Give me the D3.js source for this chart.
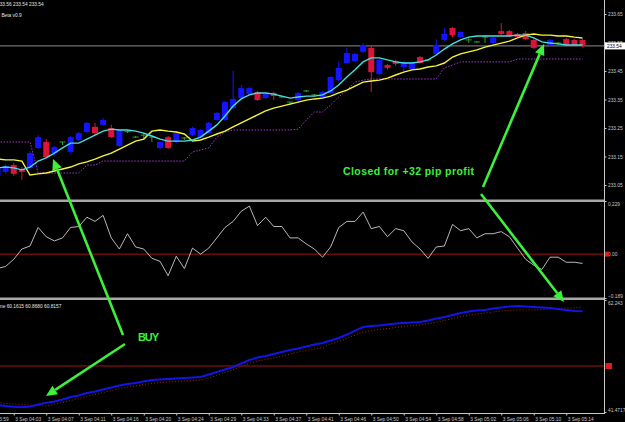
<!DOCTYPE html>
<html>
<head>
    <meta charset="utf-8">
    <title>Chart</title>
    <script src="https://cdnjs.cloudflare.com/ajax/libs/d3/7.8.5/d3.min.js"></script>
    <style>
        body { margin: 0; background: #000; }
        svg { display: block; }
        text { font-family: "Liberation Sans", Arial, sans-serif; }
    </style>
</head>
<body>
<script type="text/javascript">
    // one bar per minute, bar 0 is cut by the left edge
    var opens = [233.082, 233.096, 233.120, 233.106, 233.110, 233.180, 233.201, 233.162, 233.201, 233.166,
        233.208, 233.236, 233.254, 233.261, 233.250, 233.187, 233.237, 233.218, 233.225, 233.218,
        233.180, 233.218, 233.201, 233.215, 233.225, 233.218, 233.232, 233.278, 233.278, 233.320,
        233.355, 233.369, 233.376, 233.355, 233.373, 233.359, 233.341, 233.348, 233.380, 233.366,
        233.355, 233.373, 233.418, 233.478, 233.485, 233.517, 233.531, 233.439, 233.471, 233.485,
        233.464, 233.457, 233.499, 233.489, 233.510, 233.559, 233.601, 233.569, 233.559, 233.552,
        233.569, 233.548, 233.590, 233.590, 233.580, 233.583, 233.559, 233.538, 233.541, 233.548,
        233.562, 233.559, 233.559];
    var highs = [233.117, 233.124, 233.127, 233.113, 233.169, 233.225, 233.211, 233.187, 233.201, 233.222,
        233.236, 233.271, 233.268, 233.285, 233.261, 233.246, 233.243, 233.222, 233.232, 233.218,
        233.204, 233.222, 233.239, 233.218, 233.254, 233.246, 233.271, 233.306, 233.345, 233.450,
        233.401, 233.394, 233.380, 233.373, 233.376, 233.362, 233.341, 233.376, 233.383, 233.369,
        233.380, 233.432, 233.482, 233.531, 233.513, 233.548, 233.541, 233.492, 233.475, 233.489,
        233.485, 233.482, 233.503, 233.492, 233.562, 233.601, 233.604, 233.590, 233.569, 233.555,
        233.576, 233.569, 233.618, 233.594, 233.583, 233.590, 233.562, 233.541, 233.562, 233.552,
        233.566, 233.562, 233.562];
    var lows = [233.075, 233.089, 233.082, 233.068, 233.103, 233.176, 233.145, 233.155, 233.190, 233.162,
        233.204, 233.232, 233.225, 233.257, 233.215, 233.183, 233.232, 233.215, 233.208, 233.201,
        233.176, 233.176, 233.197, 233.208, 233.222, 233.215, 233.229, 233.275, 233.275, 233.317,
        233.352, 233.366, 233.345, 233.352, 233.348, 233.355, 233.331, 233.345, 233.376, 233.362,
        233.352, 233.369, 233.415, 233.475, 233.482, 233.513, 233.376, 233.436, 233.454, 233.468,
        233.446, 233.454, 233.475, 233.485, 233.506, 233.555, 233.569, 233.566, 233.548, 233.548,
        233.548, 233.545, 233.576, 233.569, 233.566, 233.559, 233.527, 233.531, 233.538, 233.541,
        233.538, 233.538, 233.534];
    var closes = [233.110, 233.117, 233.089, 233.096, 233.162, 233.218, 233.148, 233.183, 233.201, 233.218,
        233.232, 233.268, 233.232, 233.278, 233.218, 233.243, 233.237, 233.218, 233.225, 233.218,
        233.201, 233.180, 233.232, 233.215, 233.250, 233.243, 233.268, 233.303, 233.341, 233.352,
        233.390, 233.390, 233.348, 233.369, 233.362, 233.359, 233.341, 233.373, 233.380, 233.366,
        233.376, 233.429, 233.461, 233.513, 233.510, 233.541, 233.446, 233.489, 233.461, 233.475,
        233.482, 233.478, 233.478, 233.489, 233.541, 233.580, 233.576, 233.587, 233.559, 233.552,
        233.569, 233.566, 233.580, 233.573, 233.569, 233.562, 233.531, 233.538, 233.559, 233.548,
        233.541, 233.541, 233.538];

    var fastMa = [233.110, 233.113, 233.110, 233.103, 233.113, 233.134, 233.145, 233.162, 233.180, 233.197,
        233.197, 233.211, 233.225, 233.239, 233.246, 233.243, 233.243, 233.239, 233.232, 233.222,
        233.211, 233.204, 233.204, 233.204, 233.208, 233.218, 233.239, 233.261, 233.292, 233.327,
        233.352, 233.366, 233.373, 233.373, 233.369, 233.362, 233.355, 233.359, 233.362, 233.362,
        233.366, 233.380, 233.401, 233.429, 233.454, 233.482, 233.496, 233.496, 233.489, 233.482,
        233.478, 233.478, 233.482, 233.489, 233.506, 233.527, 233.545, 233.559, 233.569, 233.573,
        233.573, 233.573, 233.573, 233.573, 233.576, 233.576, 233.566, 233.552, 233.548, 233.545,
        233.541, 233.541, 233.541];
    var slowMa = [233.141, 233.138, 233.138, 233.134, 233.085, 233.089, 233.092, 233.099, 233.106, 233.113,
        233.124, 233.131, 233.141, 233.152, 233.162, 233.176, 233.190, 233.204, 233.211, 233.239,
        233.243, 233.239, 233.236, 233.229, 233.204, 233.208, 233.218, 233.229, 233.239, 233.254,
        233.268, 233.282, 233.296, 233.310, 233.320, 233.327, 233.334, 233.341, 233.348, 233.352,
        233.355, 233.362, 233.373, 233.383, 233.397, 233.411, 233.415, 233.418, 233.425, 233.436,
        233.446, 233.454, 233.457, 233.464, 233.468, 233.478, 233.499, 233.510, 233.517, 233.524,
        233.534, 233.541, 233.548, 233.555, 233.566, 233.576, 233.580, 233.576, 233.576, 233.573,
        233.573, 233.569, 233.566];
    var trailStop = [233.201, 233.201, 233.201, 233.201, 233.201,
        233.092, 233.092, 233.092, 233.092, 233.092, 233.092,
        233.120, 233.120,
        233.134, 233.134, 233.134, 233.134, 233.134, 233.134, 233.134, 233.134, 233.134, 233.134, 233.134,
        233.166, 233.173, 233.180, 233.218, 233.236,
        233.243, 233.243, 233.243, 233.243, 233.243, 233.243, 233.243, 233.243,
        233.246, 233.278, 233.306, 233.306, 233.331, 233.359, 233.383, 233.411, 233.418,
        233.422, 233.422, 233.422, 233.422, 233.422, 233.422, 233.422, 233.422, 233.422,
        233.461, 233.471,
        233.482, 233.482, 233.482, 233.482, 233.482, 233.482, 233.482,
        233.492, 233.492, 233.492, 233.492, 233.492, 233.492, 233.492, 233.492, 233.492];

    var oscValues = [-0.062, -0.053, -0.022, 0.022, 0.035, 0.115, 0.075, 0.057, 0.070, 0.115,
        0.119, 0.159, 0.141, 0.167, 0.070, 0.022, 0.088, 0.031, 0.022, -0.018,
        -0.031, -0.093, -0.009, -0.062, 0.026, 0.000, 0.026, 0.070, 0.115, 0.141,
        0.185, 0.207, 0.123, 0.159, 0.119, 0.119, 0.070, 0.070, 0.044, 0.022,
        -0.013, 0.031, 0.115, 0.141, 0.141, 0.181, 0.110, 0.119, 0.075, 0.110,
        0.101, 0.053, 0.022, -0.018, 0.031, 0.035, 0.128, 0.101, 0.110, 0.070,
        0.088, 0.088, 0.097, 0.075, 0.026, -0.022, -0.048, -0.066, -0.013, -0.013,
        -0.035, -0.035, -0.040];

    var lowerMain = [42.76, 42.58, 42.45, 42.35, 42.48, 42.86, 43.17, 43.41, 43.78, 44.25,
        44.52, 44.99, 45.27, 45.64, 46.01, 46.38, 46.66, 46.84, 47.12, 47.40,
        47.49, 47.59, 47.68, 47.77, 47.86, 47.96, 48.42, 48.89, 49.35, 49.81,
        50.46, 51.11, 51.58, 51.85, 52.22, 52.60, 52.97, 53.24, 53.62, 53.99,
        54.27, 54.73, 55.19, 55.84, 56.58, 57.23, 57.42, 57.51, 57.70, 57.88,
        57.98, 58.07, 58.16, 58.44, 58.81, 59.09, 59.46, 59.83, 60.11, 60.30,
        60.39, 60.67, 60.85, 61.04, 61.13, 61.04, 60.94, 60.85, 60.76, 60.57,
        60.39, 60.20, 60.16];
    var lowerSignal = [43.23, 43.04, 42.95, 42.86, 42.76, 42.67, 42.58, 42.86, 43.23, 43.60,
        43.97, 44.34, 44.71, 45.08, 45.45, 45.82, 46.10, 46.29, 46.57, 46.75,
        46.94, 47.03, 47.12, 47.22, 47.31, 47.40, 47.77, 48.24, 48.79, 49.35,
        49.91, 50.46, 50.93, 51.20, 51.48, 51.85, 52.22, 52.60, 52.87, 53.15,
        53.43, 54.08, 54.54, 55.10, 55.75, 56.31, 56.58, 56.77, 56.96, 57.14,
        57.33, 57.51, 57.60, 57.88, 58.07, 58.44, 58.81, 59.18, 59.46, 59.65,
        59.83, 60.02, 60.20, 60.30, 60.39, 60.39, 60.39, 60.48, 60.57, 60.67,
        60.76, 60.76, 60.87];

    var timeTicks = [-2, 2, 6, 10, 14, 18, 22, 26, 30, 34, 38, 42, 46, 50, 54, 58, 62, 66, 70];
    var timeLabels = ["3 Sep 03:59", "3 Sep 04:03", "3 Sep 04:07", "3 Sep 04:11", "3 Sep 04:16",
        "3 Sep 04:20", "3 Sep 04:24", "3 Sep 04:29", "3 Sep 04:33", "3 Sep 04:37", "3 Sep 04:41",
        "3 Sep 04:46", "3 Sep 04:50", "3 Sep 04:54", "3 Sep 04:58", "3 Sep 05:02", "3 Sep 05:06",
        "3 Sep 05:10", "3 Sep 05:14"];
    var priceTicks = [233.05, 233.15, 233.25, 233.35, 233.45, 233.55, 233.65];
    var oscTicks = [0.229, 0, -0.189];
    var lowerTicks = [62.243, 41.4717];

    var width = 625, height = 422, plotR = 605,
        bull = "#1414ff", bear = "#dc143c", doji = "#2e9e2e",
        green = "#3cf03c", axisCol = "#c8c8c8";

    var x = d3.scaleLinear().domain([0, 72]).range([-2.5, 582.5]);
    var yMain = d3.scaleLinear().domain([233.05, 233.65]).range([185, 14]);
    var yOsc = d3.scaleLinear().domain([-0.189, 0.229]).range([298, 201]);
    var yLow = d3.scaleLinear().domain([41.4717, 62.243]).range([412, 300]);

    var svg = d3.select("body").append("svg")
        .attr("width", width)
        .attr("height", height)
        .style("background", "#000");

    var defs = svg.append("defs");
    function addClip(id, y0, y1) {
        defs.append("clipPath").attr("id", id).append("rect")
            .attr("x", 0).attr("y", y0).attr("width", plotR).attr("height", y1 - y0);
    }
    addClip("c-main", 0, 199);
    addClip("c-osc", 202, 298);
    addClip("c-low", 300, 413);

    // ---- price pane ----
    var gMain = svg.append("g").attr("clip-path", "url(#c-main)");
    var lastClose = closes[closes.length - 1];

    gMain.append("line")
        .attr("x1", 0).attr("x2", plotR)
        .attr("y1", yMain(lastClose)).attr("y2", yMain(lastClose))
        .attr("stroke", "#8c8c8c").attr("stroke-width", 1);

    var candles = closes.map(function(c, i) {
        return {i: i, o: opens[i], h: highs[i], l: lows[i], c: c};
    });
    function candleColor(d) {
        return d.c > d.o ? bull : d.c < d.o ? bear : doji;
    }

    gMain.selectAll(".wick").data(candles).join("line")
        .attr("class", "wick")
        .attr("x1", d => x(d.i)).attr("x2", d => x(d.i))
        .attr("y1", d => yMain(d.h)).attr("y2", d => yMain(d.l))
        .attr("stroke", candleColor).attr("stroke-width", 1);

    gMain.selectAll(".body").data(candles.filter(d => d.o !== d.c)).join("rect")
        .attr("class", "body")
        .attr("x", d => x(d.i) - 3).attr("width", 6)
        .attr("y", d => yMain(Math.max(d.o, d.c)))
        .attr("height", d => Math.max(1, Math.abs(yMain(d.o) - yMain(d.c))))
        .attr("fill", candleColor);

    gMain.selectAll(".doji").data(candles.filter(d => d.o === d.c)).join("line")
        .attr("class", "doji")
        .attr("x1", d => x(d.i) - 3).attr("x2", d => x(d.i) + 3)
        .attr("y1", d => yMain(d.o)).attr("y2", d => yMain(d.o))
        .attr("stroke", doji).attr("stroke-width", 1);

    function seriesLine(scale) {
        return d3.line().x((d, i) => x(i)).y(d => scale(d));
    }

    gMain.append("path").datum(trailStop)
        .attr("d", seriesLine(yMain)).attr("fill", "none")
        .attr("stroke", "#a23ad0").attr("stroke-width", 1).attr("stroke-dasharray", "1.5,1.5");
    gMain.append("path").datum(slowMa)
        .attr("d", seriesLine(yMain)).attr("fill", "none")
        .attr("stroke", "#f4f43c").attr("stroke-width", 1.4);
    gMain.append("path").datum(fastMa)
        .attr("d", seriesLine(yMain)).attr("fill", "none")
        .attr("stroke", "#46dede").attr("stroke-width", 1.4);

    // ---- oscillator pane ----
    var gOsc = svg.append("g").attr("clip-path", "url(#c-osc)");
    gOsc.append("line")
        .attr("x1", 0).attr("x2", plotR).attr("y1", yOsc(0)).attr("y2", yOsc(0))
        .attr("stroke", "#a01414").attr("stroke-width", 1);
    gOsc.append("path").datum(oscValues)
        .attr("d", seriesLine(yOsc)).attr("fill", "none")
        .attr("stroke", "#e6e6e6").attr("stroke-width", 0.8);

    // ---- lower pane ----
    var gLow = svg.append("g").attr("clip-path", "url(#c-low)");
    gLow.append("line")
        .attr("x1", 0).attr("x2", plotR).attr("y1", yLow(50)).attr("y2", yLow(50))
        .attr("stroke", "#a01414").attr("stroke-width", 1);
    gLow.append("path").datum(lowerSignal)
        .attr("d", seriesLine(yLow)).attr("fill", "none")
        .attr("stroke", "#9a2a1a").attr("stroke-width", 1).attr("stroke-dasharray", "1,2");
    gLow.append("path").datum(lowerMain)
        .attr("d", seriesLine(yLow)).attr("fill", "none")
        .attr("stroke", "#1414e6").attr("stroke-width", 2);

    // pane separators and frame
    [199.5, 297.5].forEach(function(y) {
        svg.append("rect").attr("x", 0).attr("y", y).attr("width", plotR).attr("height", 2.5)
            .attr("fill", "#a8a8a8");
    });
    svg.append("line").attr("x1", plotR - 0.5).attr("x2", plotR - 0.5).attr("y1", 0).attr("y2", 413.5)
        .attr("stroke", axisCol).attr("stroke-width", 1);
    svg.append("line").attr("x1", 0).attr("x2", plotR).attr("y1", 413.5).attr("y2", 413.5)
        .attr("stroke", axisCol).attr("stroke-width", 1);

    function styleAxis(g) {
        g.select(".domain").remove();
        g.selectAll("line").attr("stroke", axisCol);
        g.selectAll("text").attr("fill", axisCol).style("font-size", "4.8px")
            .style("font-family", "'Liberation Sans', Arial, sans-serif");
    }

    svg.append("g")
        .attr("transform", "translate(" + (plotR - 0.5) + ",0)")
        .call(d3.axisRight(yMain).tickValues(priceTicks).tickFormat(d3.format(".2f")).tickSize(2).tickPadding(1.5))
        .call(styleAxis);

    svg.append("g")
        .attr("transform", "translate(" + (plotR - 0.5) + ",0)")
        .call(d3.axisRight(yOsc).tickValues(oscTicks)
            .tickFormat(d => d === 0 ? "0.00" : d3.format(".3f")(d)).tickSize(2).tickPadding(1.5))
        .call(styleAxis)
        .call(g => g.selectAll(".tick text").attr("dy", (d, i) => i === 0 ? "0.9em" : i === 2 ? "-0.2em" : "0.32em"));

    svg.append("g")
        .attr("transform", "translate(" + (plotR - 0.5) + ",0)")
        .call(d3.axisRight(yLow).tickValues(lowerTicks)
            .tickFormat(d => String(d)).tickSize(2).tickPadding(1.5))
        .call(styleAxis)
        .call(g => g.selectAll(".tick text").attr("dy", (d, i) => i === 0 ? "0.9em" : "-0.1em"));

    // level markers on the right scale
    svg.append("rect").attr("x", 605).attr("y", yOsc(0) - 2.5).attr("width", 4.5).attr("height", 5)
        .attr("fill", "#dc1e1e");
    svg.append("rect").attr("x", 605.5).attr("y", yLow(50) - 3).attr("width", 6.5).attr("height", 6)
        .attr("fill", "#dc1e1e");

    // bid box
    svg.append("rect").attr("x", 605).attr("y", yMain(lastClose) - 3.5).attr("width", 20).attr("height", 7)
        .attr("fill", "#fff");
    svg.append("text").attr("x", 607).attr("y", yMain(lastClose) + 1.8)
        .style("font-size", "4.8px").attr("fill", "#000").text(d3.format(".2f")(lastClose));

    svg.append("g")
        .attr("transform", "translate(0,413.5)")
        .call(d3.axisBottom(x).tickValues(timeTicks).tickFormat((d, i) => timeLabels[i]).tickSize(2).tickPadding(2))
        .call(styleAxis)
        .call(g => g.selectAll(".tick text").attr("text-anchor", "start").attr("x", 1));

    // pane titles
    var titles = [
        {x: -3, y: 6, t: "233.56 233.54 233.54"},
        {x: -1, y: 17, t: "i Beta v0.9"},
        {x: 0, y: 307.5, t: "ne 60.1615 60.8680 60.8157"}
    ];
    svg.selectAll(".title").data(titles).join("text")
        .attr("class", "title")
        .attr("x", d => d.x).attr("y", d => d.y)
        .attr("fill", "#e8e8e8").style("font-size", "4.8px")
        .text(d => d.t);

    // trade annotations
    var arrows = [
        [123, 335, 53, 159],
        [125, 344, 46, 396],
        [483, 187, 544, 44],
        [481, 194, 564, 302]
    ];
    var gAnn = svg.append("g");
    arrows.forEach(function(a) {
        var ang = Math.atan2(a[3] - a[1], a[2] - a[0]),
            len = 11, half = 5,
            bx = a[2] - len * Math.cos(ang), by = a[3] - len * Math.sin(ang),
            px = -Math.sin(ang) * half, py = Math.cos(ang) * half;
        gAnn.append("line")
            .attr("x1", a[0]).attr("y1", a[1]).attr("x2", bx).attr("y2", by)
            .attr("stroke", green).attr("stroke-width", 2.6);
        gAnn.append("path")
            .attr("d", "M" + a[2] + "," + a[3] + "L" + (bx + px) + "," + (by + py) + "L" + (bx - px) + "," + (by - py) + "Z")
            .attr("fill", green);
    });

    gAnn.append("text").attr("x", 138).attr("y", 341)
        .attr("fill", green).style("font-size", "11px").style("font-weight", "bold")
        .attr("textLength", 21).text("BUY");
    gAnn.append("text").attr("x", 343).attr("y", 175)
        .attr("fill", green).style("font-size", "10.5px").style("font-weight", "bold")
        .attr("textLength", 131).text("Closed for +32 pip profit");
</script>
</body>
</html>
